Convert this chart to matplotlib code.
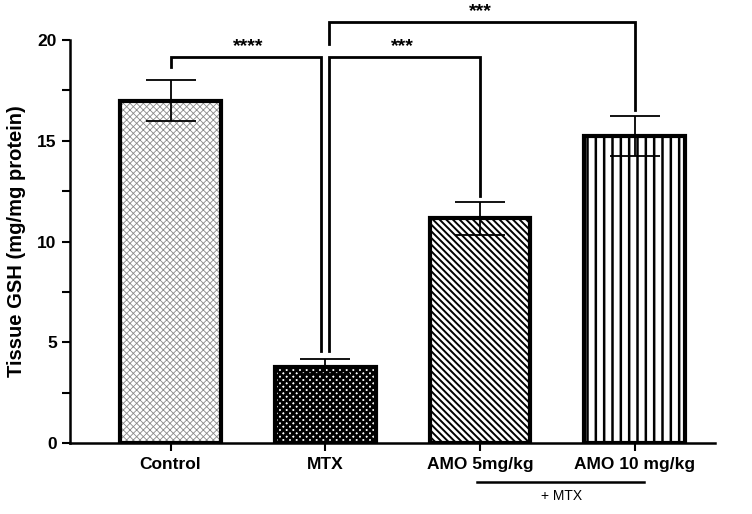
import matplotlib
matplotlib.use("Agg")
import matplotlib.pyplot as plt
from matplotlib.ticker import MultipleLocator

plt.rcParams["font.family"] = ["Liberation Sans", "DejaVu Sans"]
plt.rcParams["hatch.linewidth"] = 1.2

# data
groups = ["Control", "MTX", "AMO 5mg/kg", "AMO 10 mg/kg"]
means = [17.0, 3.8, 11.15, 15.25]
errors = [1.0, 0.35, 0.8, 1.0]
hatches = ["xxxxx", "xxxxx", "\\\\\\\\\\", "||"]
hatch_colors = ["#8a8a8a", "black", "black", "black"]
hatch_widths = [0.6, 2.0, 1.4, 1.8]

# significance brackets: (left group, right group, height of bar, label)
brackets = [(0, 1, 19.15, "****"), (1, 2, 19.15, "***"), (1, 3, 20.9, "***")]

fig = plt.figure(figsize=(7.52, 5.14), dpi=100)
ax = fig.add_axes([0.093, 0.138, 0.858, 0.784])

x = list(range(len(groups)))
width = 0.65
for i in x:
    plt.rcParams["hatch.linewidth"] = hatch_widths[i]
    ax.bar(i, means[i], width, color="white", edgecolor=hatch_colors[i],
           hatch=hatches[i], linewidth=0, zorder=2)
ax.bar(x, means, width, facecolor="none", edgecolor="black", linewidth=3.0, zorder=3)
ax.errorbar(x, means, yerr=errors, fmt="none", ecolor="black", elinewidth=1.3,
            capsize=18, capthick=1.3, zorder=4)

# brackets
off = 0.025
for a, b, h, lab in brackets:
    xa = a + (off if a == 1 else 0)
    xb = b - (off if b == 1 else 0)
    ya = means[a] + errors[a] + 0.3 if a != 1 else means[a] + errors[a] + 0.4
    yb = means[b] + errors[b] + 0.3 if b != 1 else means[b] + errors[b] + 0.4
    if a == 1 and b == 3:
        ya = h - 1.1
    if a == 0:
        ya = h - 0.5
    ax.plot([xa, xa, xb, xb], [ya, h, h, yb], color="black", lw=2.0,
            solid_joinstyle="miter", clip_on=False, zorder=5)
    ax.text((a + b) / 2, h + 0.1, lab, ha="center", va="bottom",
            fontsize=14, fontweight="bold", clip_on=False)

ax.set_xlim(-0.65, 3.52)
ax.set_ylim(0, 20)
ax.yaxis.set_major_locator(MultipleLocator(5))
ax.yaxis.set_minor_locator(MultipleLocator(2.5))
ax.set_xticks(x)
ax.set_xticklabels(groups, fontsize=12.5, fontweight="bold")
for t in ax.get_yticklabels():
    t.set_fontweight("bold")
ax.tick_params(axis="y", labelsize=12.5, width=1.5, length=6)
ax.tick_params(axis="y", which="minor", width=1.5, length=6)
ax.tick_params(axis="x", width=1.5, length=6, pad=4)
ax.set_ylabel("Tissue GSH (mg/mg protein)", fontsize=14.5, fontweight="bold", labelpad=8)

for s in ["top", "right"]:
    ax.spines[s].set_visible(False)
for s in ["left", "bottom"]:
    ax.spines[s].set_linewidth(1.8)

# + MTX grouping line below the AMO labels
ax.plot([1.98, 3.06], [-1.95, -1.95], color="black", lw=1.8, clip_on=False)
ax.text(2.53, -2.3, "+ MTX", ha="center", va="top", fontsize=10)

fig.savefig("out.png", dpi=100)
